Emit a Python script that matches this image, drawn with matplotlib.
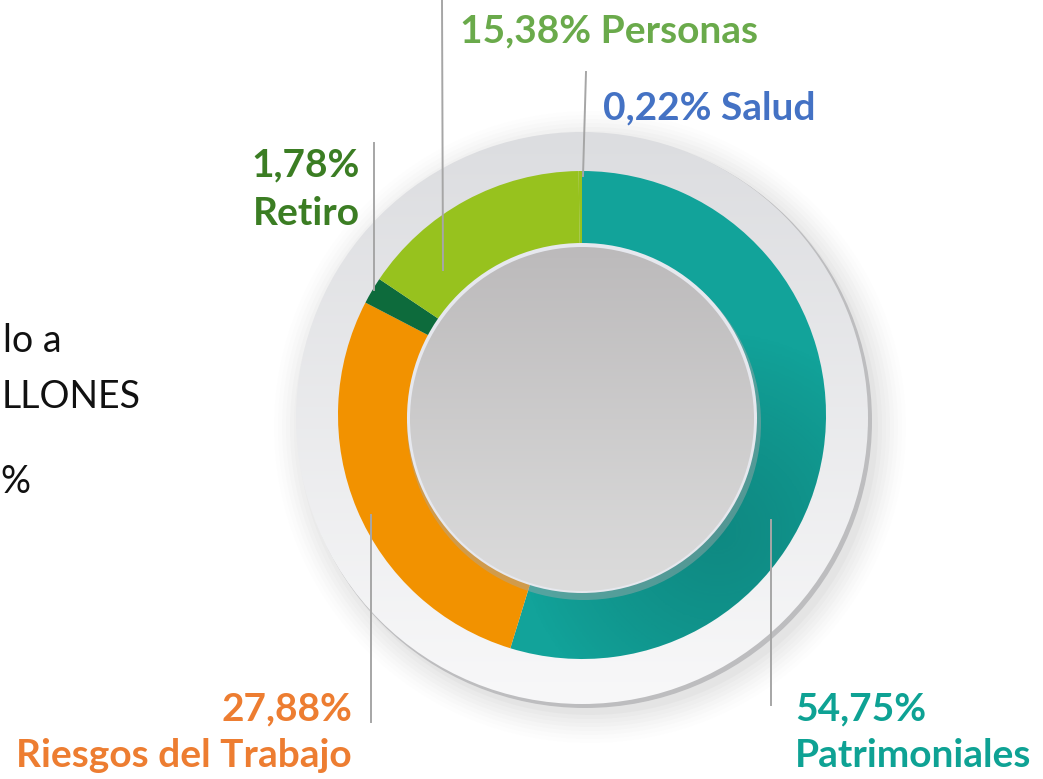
import numpy as np
import matplotlib
matplotlib.use("Agg")
from matplotlib import pyplot as plt
from matplotlib.patches import Circle
from matplotlib.colors import LinearSegmentedColormap

W, H = 1043, 779

labels = ["Patrimoniales", "Riesgos del Trabajo", "Retiro", "Personas", "Salud"]
shares = [54.75, 27.88, 1.78, 15.38, 0.22]
share_text = ["54,75%", "27,88%", "1,78%", "15,38%", "0,22%"]
ring_colors = ["#12a39a", "#f29200", "#0d6b3c", "#97c21e", "#97c21e"]
label_colors = ["#0ea294", "#ed7d31", "#3b7d23", "#6aaa4b", "#4472c4"]
side_text = ["lo a", "LLONES", "%"]

plt.rcParams["font.family"] = ["Lato", "DejaVu Sans"]

fig = plt.figure(figsize=(W / 100, H / 100), dpi=100)
ax = fig.add_axes([0, 0, 1, 1])

cx, cy = 582, 415


def gradient_disc(center, r, top, bottom, z):
    cmap = LinearSegmentedColormap.from_list("g", [top, bottom])
    grad = np.linspace(0, 1, 256).reshape(-1, 1)
    x, y = center
    im = ax.imshow(grad, cmap=cmap, aspect="auto", zorder=z,
                   extent=(x - r, x + r, y + r, y - r))
    im.set_clip_path(Circle(center, r, transform=ax.transData))


# soft shadow behind the plate
for i, a in enumerate(np.linspace(0.05, 0.012, 8)):
    ax.add_patch(Circle((cx + 8, cy + 12), 288 + i * 4, color="#9a9a9a",
                        alpha=a, lw=0, zorder=1))

# outer plate
ax.add_patch(Circle((cx + 3, cy + 6), 287, color="#bdbdbf", lw=0, zorder=2))
gradient_disc((cx, cy + 3), 286, "#dcdde0", "#f8f8f9", 3)

# ring
wedges, _ = ax.pie(shares, colors=ring_colors, radius=244, center=(cx, cy),
                   startangle=-90, counterclock=True,
                   wedgeprops=dict(width=90, linewidth=0), frame=True)
for w in wedges:
    w.set_zorder(4)

# slight darker shading on the lower right of the teal segment
shade = LinearSegmentedColormap.from_list(
    "s", [(0, 0, 0, 0), (0.02, 0.25, 0.25, 0.3)])
gx = np.linspace(0, 1, 200)
GX, GY = np.meshgrid(gx, gx)
field = np.clip(1 - np.hypot(GX - 0.78, GY - 0.74) * 2.4, 0, 1) * 0.75
im = ax.imshow(field, cmap=shade, vmin=0, vmax=1, aspect="auto", zorder=4.5,
               extent=(cx - 244, cx + 244, cy + 244, cy - 244))
im.set_clip_path(wedges[0])

# inner disc
ax.add_patch(Circle((cx + 2, cy + 8), 177, color="#a8a8aa", alpha=0.45,
                    lw=0, zorder=5))
ax.add_patch(Circle((cx, cy + 3), 175, color="#e6e8ee", lw=0, zorder=5))
gradient_disc((cx, cy + 4), 172, "#bcbabb", "#dcdcdc", 6)

# leader lines
line_c = "#a6a6a6"
ax.plot([442, 443], [0, 270], color=line_c, lw=1.4, zorder=7)
ax.plot([586, 583], [72, 176], color=line_c, lw=1.4, zorder=7)
ax.plot([374, 374], [143, 290], color=line_c, lw=1.4, zorder=7)
ax.plot([371, 371], [515, 722], color=line_c, lw=1.4, zorder=7)
ax.plot([771, 771], [520, 705], color=line_c, lw=1.4, zorder=7)

fs = 28
bold = dict(fontsize=fs, fontweight="bold", va="baseline", zorder=8)
ax.text(460, 42, f"{share_text[3]} {labels[3]}", color=label_colors[3],
        ha="left", **bold)
ax.text(603, 119, f"{share_text[4]} {labels[4]}", color=label_colors[4],
        ha="left", **bold)
ax.text(360, 176, share_text[2], color=label_colors[2], ha="right", **bold)
ax.text(360, 225, labels[2], color=label_colors[2], ha="right", **bold)
ax.text(352, 720, share_text[1], color=label_colors[1], ha="right", **bold)
ax.text(352, 767, labels[1], color=label_colors[1], ha="right", **bold)
ax.text(795, 720, share_text[0], color=label_colors[0], ha="left", **bold)
ax.text(795, 767, labels[0], color=label_colors[0], ha="left", **bold)

# text cut off by the left edge in the source
for s, x, y, ha in zip(side_text, [62, 2, 0], [352, 408, 493],
                       ["right", "left", "left"]):
    ax.text(x, y, s, fontsize=27, color="#111111", ha=ha,
            va="baseline", zorder=8)

ax.set_xlim(0, W)
ax.set_ylim(H, 0)
ax.set_aspect("auto")
ax.set_axis_off()

fig.savefig("out.png", dpi=100, facecolor="white")
